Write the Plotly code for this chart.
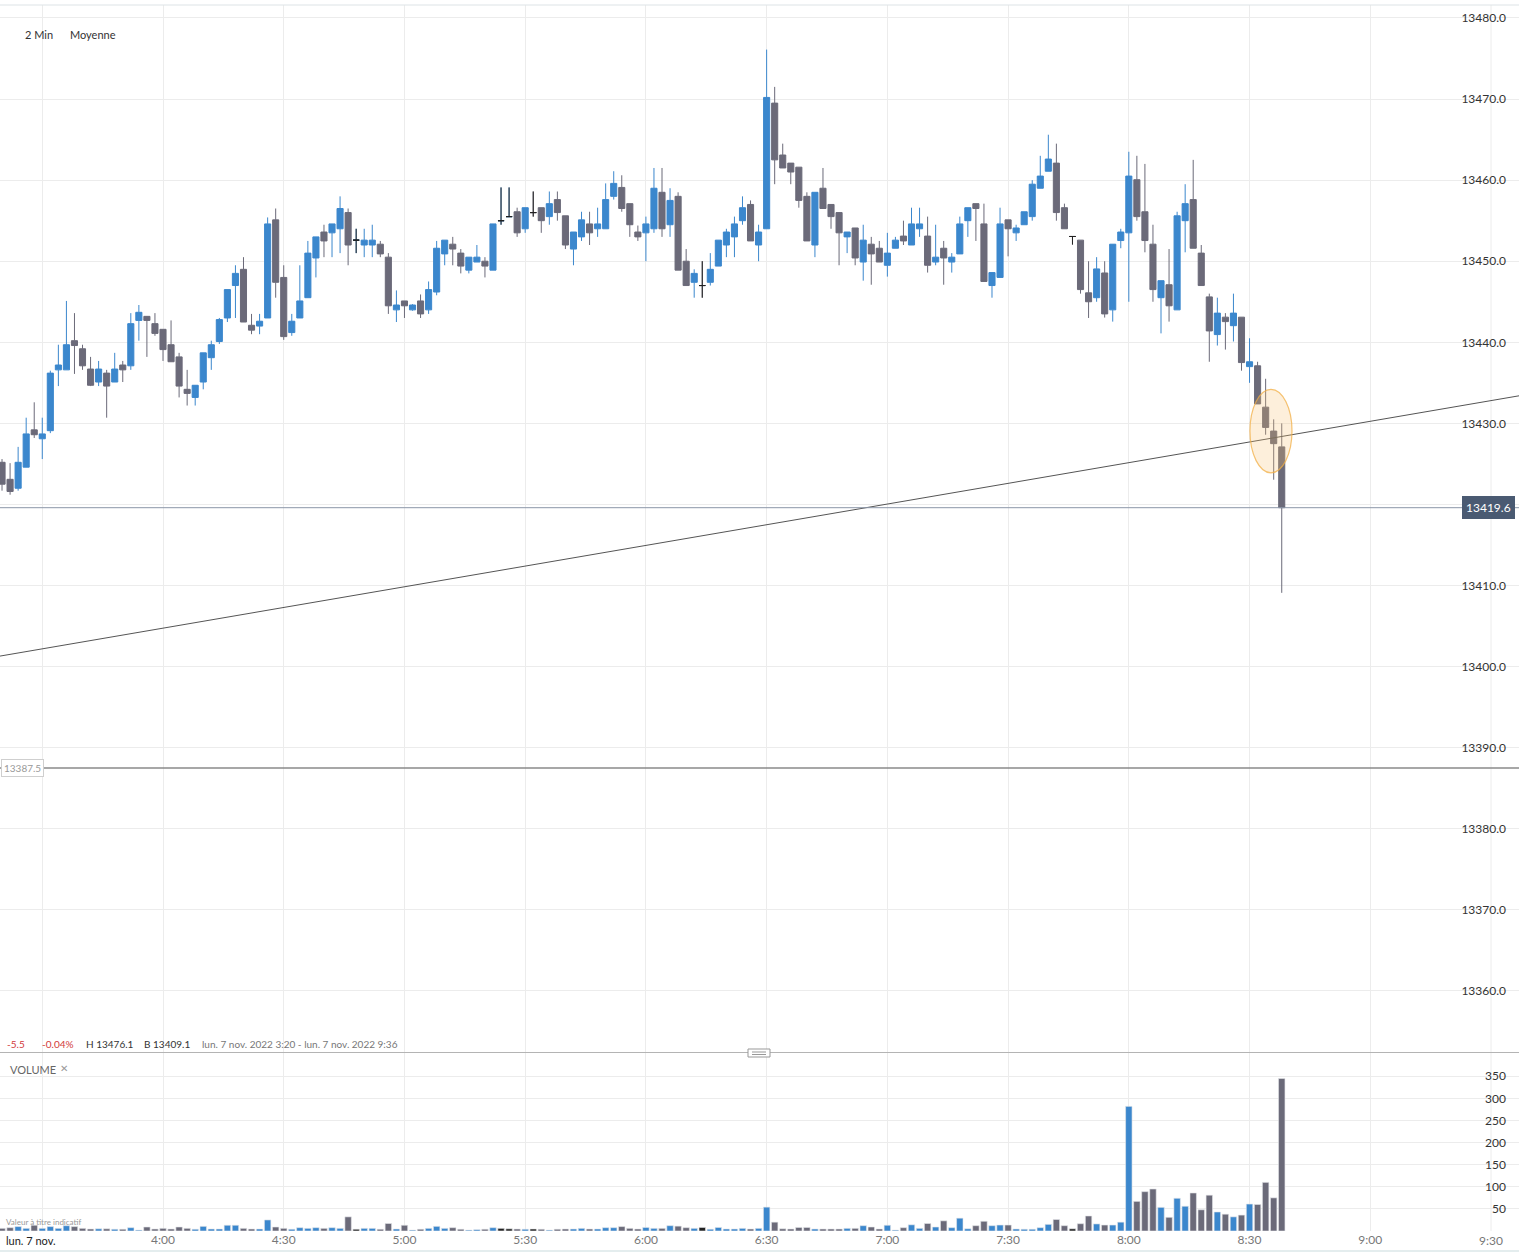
import plotly.graph_objects as go
import pandas as pd

W, H = 1519, 1257

# ---------------- data (2-min candles, 7 Nov 2022, 3:20 -> 8:38) ----------------
opens = [13425.2, 13423.1, 13422.0, 13424.6, 13429.2, 13428.1, 13429.1, 13436.6, 13436.6, 13440.2,
         13439.2, 13436.7, 13435.1, 13436.2, 13435.1, 13437.2, 13437.1, 13442.7, 13443.2, 13442.3,
         13441.6, 13439.7, 13438.2, 13434.2, 13433.2, 13435.1, 13438.1, 13440.1, 13443.0, 13447.0,
         13449.0, 13442.1, 13442.0, 13443.0, 13455.1, 13448.0, 13441.2, 13443.0, 13445.5, 13450.4,
         13453.6, 13453.5, 13454.0, 13456.0, 13452.6, 13452.0, 13452.0, 13452.1, 13450.5, 13444.0,
         13445.1, 13444.0, 13445.1, 13444.0, 13446.2, 13450.9, 13452.1, 13451.0, 13448.9, 13449.9,
         13450.0, 13448.9, 13455.0, 13455.5, 13456.1, 13454.0, 13456.0, 13456.6, 13455.5, 13457.6,
         13455.6, 13451.5, 13453.0, 13454.6, 13454.0, 13454.0, 13458.0, 13459.1, 13457.1, 13453.6,
         13453.5, 13454.0, 13458.5, 13454.5, 13458.0, 13450.0, 13447.4, 13447.0, 13447.4, 13449.4,
         13452.0, 13453.0, 13455.0, 13457.0, 13452.0, 13454.0, 13469.5, 13463.1, 13462.1, 13461.6,
         13458.0, 13452.0, 13459.0, 13457.0, 13456.0, 13453.0, 13454.1, 13449.9, 13452.1, 13451.6,
         13449.5, 13451.6, 13453.1, 13452.0, 13454.0, 13453.1, 13449.9, 13451.6, 13449.9, 13450.9,
         13455.0, 13457.1, 13454.6, 13447.0, 13448.0, 13455.1, 13453.5, 13454.5, 13455.5, 13459.0,
         13461.1, 13462.1, 13456.6, 13453.05, 13452.6, 13446.1, 13445.5, 13448.55, 13444.0, 13452.55,
         13453.5, 13460.05, 13456.1, 13452.1, 13445.5, 13447.1, 13444.0, 13455.0, 13457.6, 13451.0,
         13445.6, 13440.95, 13443.1, 13442.05, 13443.1, 13437.0, 13437.1, 13432.0, 13429.05, 13427.1]
highs = [13425.6, 13425.1, 13427.1, 13430.7, 13432.6, 13430.7, 13436.5, 13439.7, 13445.1, 13443.6,
         13439.7, 13438.2, 13437.7, 13436.6, 13438.7, 13437.7, 13443.6, 13444.6, 13443.2, 13443.6,
         13441.6, 13442.7, 13438.7, 13436.6, 13434.7, 13438.7, 13440.2, 13443.0, 13446.5, 13449.5,
         13450.5, 13443.5, 13443.5, 13455.4, 13456.5, 13449.5, 13443.5, 13449.5, 13452.5, 13453.0,
         13454.5, 13454.6, 13458.0, 13456.5, 13454.0, 13454.0, 13454.5, 13452.5, 13451.0, 13446.4,
         13445.1, 13444.7, 13445.9, 13447.5, 13452.5, 13452.6, 13453.0, 13451.5, 13450.5, 13452.0,
         13450.5, 13454.6, 13459.1, 13459.1, 13456.6, 13456.6, 13458.6, 13456.6, 13458.6, 13458.6,
         13455.6, 13453.6, 13456.1, 13456.1, 13456.6, 13459.6, 13461.1, 13460.6, 13457.1, 13454.4,
         13455.5, 13461.5, 13461.5, 13459.0, 13458.5, 13451.5, 13449.0, 13450.0, 13451.0, 13452.6,
         13454.0, 13455.5, 13458.0, 13457.5, 13454.5, 13476.1, 13471.5, 13464.5, 13462.1, 13461.6,
         13458.5, 13458.5, 13461.5, 13457.0, 13456.0, 13453.6, 13454.1, 13454.5, 13453.0, 13452.5,
         13453.5, 13453.0, 13455.0, 13456.6, 13456.6, 13455.5, 13454.5, 13452.5, 13451.0, 13455.5,
         13456.6, 13457.1, 13457.1, 13448.6, 13456.6, 13455.1, 13454.5, 13456.1, 13460.0, 13463.0,
         13465.6, 13464.5, 13457.1, 13453.05, 13452.6, 13450.0, 13450.5, 13450.0, 13452.1, 13454.0,
         13463.5, 13463.0, 13462.0, 13454.5, 13447.6, 13451.5, 13456.1, 13459.5, 13462.5, 13452.0,
         13446.0, 13445.5, 13443.6, 13446.0, 13443.1, 13440.5, 13437.6, 13435.5, 13430.5, 13430.0]
lows = [13421.7, 13421.2, 13421.7, 13424.6, 13428.2, 13425.6, 13428.8, 13434.6, 13436.6, 13436.1,
        13436.6, 13434.6, 13434.6, 13430.7, 13435.1, 13435.1, 13436.6, 13440.2, 13438.2, 13440.8,
        13437.7, 13437.6, 13433.2, 13432.2, 13432.2, 13434.2, 13436.6, 13439.8, 13442.5, 13443.0,
        13442.5, 13441.0, 13441.0, 13443.0, 13445.5, 13440.3, 13440.8, 13443.0, 13445.5, 13448.0,
        13450.5, 13450.5, 13451.0, 13449.5, 13451.0, 13450.5, 13450.5, 13450.5, 13443.5, 13442.5,
        13443.0, 13443.9, 13443.0, 13443.5, 13445.8, 13449.5, 13449.5, 13448.5, 13448.5, 13449.9,
        13448.0, 13448.9, 13454.5, 13455.5, 13453.0, 13453.5, 13455.5, 13453.5, 13454.5, 13455.0,
        13451.5, 13449.5, 13452.5, 13452.0, 13453.0, 13454.0, 13457.6, 13456.1, 13453.0, 13452.5,
        13450.0, 13453.5, 13453.0, 13453.0, 13448.9, 13447.0, 13445.5, 13445.5, 13447.0, 13449.4,
        13450.5, 13450.5, 13454.5, 13452.5, 13450.0, 13454.0, 13459.5, 13461.5, 13459.5, 13456.6,
        13452.5, 13450.5, 13456.5, 13454.0, 13449.5, 13451.0, 13449.5, 13447.6, 13447.1, 13449.9,
        13448.1, 13451.6, 13452.0, 13452.0, 13453.0, 13448.6, 13449.5, 13447.1, 13448.6, 13450.9,
        13453.0, 13452.5, 13447.5, 13445.5, 13448.0, 13450.6, 13452.5, 13454.5, 13455.0, 13459.0,
        13461.1, 13455.0, 13454.0, 13452.05, 13446.0, 13443.0, 13445.0, 13443.05, 13442.55, 13451.6,
        13445.0, 13455.0, 13451.1, 13445.0, 13441.1, 13442.55, 13444.0, 13451.1, 13451.6, 13447.0,
        13437.6, 13439.6, 13439.1, 13440.1, 13436.5, 13435.0, 13432.4, 13428.6, 13423.05, 13409.1]
closes = [13422.5, 13421.6, 13425.2, 13428.7, 13428.6, 13428.7, 13436.2, 13437.2, 13439.7, 13439.6,
          13437.1, 13434.7, 13436.7, 13434.6, 13436.7, 13436.6, 13442.3, 13443.7, 13442.7, 13441.1,
          13439.1, 13437.6, 13434.6, 13433.7, 13434.7, 13438.7, 13439.7, 13442.8, 13446.5, 13448.5,
          13442.5, 13441.5, 13442.6, 13454.6, 13447.4, 13440.7, 13442.6, 13445.1, 13451.0, 13453.0,
          13452.5, 13454.6, 13456.5, 13452.0, 13452.6, 13452.6, 13452.6, 13450.9, 13444.5, 13444.6,
          13444.5, 13444.6, 13443.5, 13446.5, 13451.6, 13452.6, 13451.5, 13449.4, 13450.5, 13450.5,
          13449.4, 13454.6, 13455.0, 13455.5, 13453.5, 13456.6, 13456.0, 13455.0, 13457.1, 13456.0,
          13452.0, 13453.6, 13455.1, 13453.5, 13454.6, 13457.6, 13459.6, 13456.5, 13454.5, 13453.0,
          13454.6, 13459.0, 13454.0, 13457.5, 13448.9, 13447.0, 13448.5, 13447.0, 13449.0, 13452.6,
          13453.6, 13454.6, 13456.6, 13452.5, 13453.6, 13470.2, 13462.5, 13461.5, 13461.0, 13457.5,
          13452.5, 13458.5, 13456.5, 13455.5, 13453.5, 13453.6, 13450.4, 13452.6, 13450.9, 13449.9,
          13451.0, 13452.6, 13452.5, 13454.6, 13454.6, 13449.5, 13450.5, 13450.4, 13450.5, 13454.6,
          13456.6, 13456.5, 13447.5, 13448.6, 13454.6, 13454.0, 13454.1, 13456.1, 13459.5, 13460.5,
          13462.6, 13456.0, 13454.0, 13453.05, 13446.5, 13445.0, 13449.05, 13443.5, 13452.1, 13453.6,
          13460.5, 13455.5, 13452.55, 13446.5, 13447.6, 13444.5, 13455.6, 13457.1, 13451.6, 13447.0,
          13441.4, 13443.6, 13442.55, 13443.6, 13437.5, 13437.6, 13432.4, 13429.5, 13427.5, 13419.6]
volumes = [6, 7.5, 10, 6, 13, 6, 10, 6, 12, 10,
           6, 4.5, 5, 5, 4, 4, 7.5, 2, 9, 4.5,
           6, 4.5, 9, 6, 4, 10.5, 4.5, 4.5, 13, 13,
           6, 4.5, 4.5, 25, 9, 6, 4, 7.5, 6, 7.5,
           6, 7.5, 6, 32, 4, 6, 6, 4, 17, 4.5,
           13, 2, 4, 6, 10.5, 6, 7.5, 4, 2, 3,
           4, 7.5, 6, 5, 4.5, 4, 4.5, 4, 2, 4,
           4.5, 4.5, 6, 4.5, 4.5, 7.5, 7.5, 10, 6, 4.5,
           8, 6, 6, 12, 11, 7.5, 6, 8, 4, 8,
           4.5, 4.5, 6, 4.5, 6, 54, 20, 5, 4.5, 8,
           8, 4.5, 4.5, 4.5, 4.5, 6, 6, 12, 9, 4.5,
           13, 2, 7.5, 14, 6, 17, 9, 23, 7.5, 29,
           5, 12, 22, 12, 13.5, 13.5, 4.5, 4, 4, 7.5,
           15, 26, 12, 5, 16.5, 34, 16, 13.5, 13.5, 20,
           282, 67, 89, 95, 53.5, 31, 74, 56, 86, 48,
           81, 43, 38, 32, 36, 61, 60, 110, 75, 345]

times = pd.date_range("2022-11-07 03:20", periods=len(opens), freq="2min")

# 13420 label is hidden behind the last-price tag in the reference
price_ticks = [13360, 13370, 13380, 13390, 13400, 13410, 13430, 13440, 13450, 13460, 13470, 13480]
vol_ticks = [50, 100, 150, 200, 250, 300, 350]
time_ticks = list(pd.date_range("2022-11-07 03:30", "2022-11-07 09:00", freq="30min"))
time_labels = [""] + [f"{t.hour}:{t.minute:02d}" for t in time_ticks[1:]]
last_time_tick = "2022-11-07 09:30"   # drawn manually (plotly hides it under inside y labels)
last_time_label = "9:30"
date_label = "lun. 7 nov."

last_price = 13419.6
support_level = 13387.5
trend_start = ("2022-11-07 03:19:30", 13401.3)
trend_end = ("2022-11-07 09:36:58", 13433.4)
highlight = ("2022-11-07 08:30:06", "2022-11-07 08:40:33", 13423.9, 13434.2)

BLUE = "#3b87cd"
GREY = "#6b6a79"
BLACK = "#222222"
GRID = "#ececec"
FONT = "Lato, 'Open Sans', sans-serif"

def px(x):
    return x / W

def py(y):
    return 1 - y / H

doji_idx = [i for i in range(len(opens)) if opens[i] == closes[i]]
vol_colors = [BLUE if c > o else (GREY if c < o else BLACK) for o, c in zip(opens, closes)]

fig = go.Figure()

fig.add_trace(go.Candlestick(
    x=times, open=opens, high=highs, low=lows, close=closes,
    increasing=dict(line=dict(color=BLUE, width=1), fillcolor=BLUE),
    decreasing=dict(line=dict(color=GREY, width=1), fillcolor=GREY),
    whiskerwidth=0, xaxis="x", yaxis="y", showlegend=False,
))
fig.add_trace(go.Candlestick(
    x=[times[i] for i in doji_idx],
    open=[opens[i] for i in doji_idx], high=[highs[i] for i in doji_idx],
    low=[lows[i] for i in doji_idx], close=[closes[i] for i in doji_idx],
    increasing=dict(line=dict(color=BLACK, width=1), fillcolor=BLACK),
    decreasing=dict(line=dict(color=BLACK, width=1), fillcolor=BLACK),
    whiskerwidth=0, xaxis="x", yaxis="y", showlegend=False,
))
fig.add_trace(go.Bar(
    x=times, y=volumes, marker=dict(color=vol_colors, line=dict(color="#e4e6ea", width=0.6)),
    xaxis="x2", yaxis="y2", showlegend=False,
))

main_dom = [py(1052), py(5)]
vol_dom = [py(1231), py(1053)]
xrange = ["2022-11-07 03:19:29.7", "2022-11-07 09:36:57.5"]

fig.update_layout(
    width=W, height=H,
    margin=dict(l=0, r=0, t=0, b=0),
    paper_bgcolor="white", plot_bgcolor="white",
    font=dict(family=FONT, size=12, color="#333"),
    boxgap=0.13, boxgroupgap=0.13, bargap=0.2,
    xaxis=dict(domain=[0, 1], range=xrange, anchor="y", showticklabels=False,
               tickvals=time_ticks, showgrid=True, gridcolor=GRID, gridwidth=1,
               rangeslider=dict(visible=False), zeroline=False, showline=False),
    yaxis=dict(domain=main_dom, range=[13352.47, 13481.6], side="right", anchor="x",
               tickvals=price_ticks, tickformat=".1f", ticklabelposition="inside",
               ticklabelstandoff=10, tickfont=dict(size=12, color="#333"),
               showgrid=True, gridcolor=GRID, zeroline=False, showline=False),
    xaxis2=dict(domain=[0, 1], range=xrange, anchor="y2", matches="x",
                tickvals=time_ticks, ticktext=time_labels, tickfont=dict(size=12, color="#777"),
                showgrid=True, gridcolor=GRID, zeroline=False, showline=False, ticks=""),
    yaxis2=dict(domain=vol_dom, range=[0, 402.7], side="right", anchor="x2",
                tickvals=vol_ticks, ticklabelposition="inside", ticklabelstandoff=10,
                tickfont=dict(size=12, color="#333"),
                showgrid=True, gridcolor=GRID, zeroline=False, showline=False),
)

shapes = [
    # 13420 grid line (label hidden behind last-price tag)
    dict(type="line", xref="paper", yref="y", x0=0, x1=1, y0=13420, y1=13420,
         line=dict(color=GRID, width=1), layer="below"),
    # 9:30 grid lines in both panels
    dict(type="line", xref="x", yref="y domain", x0=last_time_tick, x1=last_time_tick, y0=0, y1=1,
         line=dict(color=GRID, width=1), layer="below"),
    dict(type="line", xref="x2", yref="y2 domain", x0=last_time_tick, x1=last_time_tick, y0=0, y1=1,
         line=dict(color=GRID, width=1), layer="below"),
    # trend line
    dict(type="line", xref="x", yref="y", x0=trend_start[0], y0=trend_start[1],
         x1=trend_end[0], y1=trend_end[1], line=dict(color="#555", width=1)),
    # last price line
    dict(type="line", xref="paper", yref="y", x0=0, x1=1, y0=last_price, y1=last_price,
         line=dict(color="#8c97a8", width=1)),
    # support line
    dict(type="line", xref="paper", yref="y", x0=0, x1=1, y0=support_level, y1=support_level,
         line=dict(color="#8a8a8a", width=1.5)),
    # highlight ellipse
    dict(type="circle", xref="x", yref="y", x0=highlight[0], x1=highlight[1],
         y0=highlight[2], y1=highlight[3], fillcolor="rgba(246,190,110,0.25)",
         line=dict(color="rgba(242,175,70,0.75)", width=1.2), layer="above"),
    # top border
    dict(type="line", xref="paper", yref="paper", x0=0, x1=1, y0=py(5), y1=py(5),
         line=dict(color="#dde3e6", width=1)),
    # panel separator
    dict(type="line", xref="paper", yref="paper", x0=0, x1=1, y0=py(1052.5), y1=py(1052.5),
         line=dict(color="#b4b4b4", width=1)),
    # bottom border
    dict(type="line", xref="paper", yref="paper", x0=0, x1=1, y0=py(1251), y1=py(1251),
         line=dict(color="#dbe7e8", width=1.5)),
    # separator handle
    dict(type="rect", xref="paper", yref="paper", x0=px(748), x1=px(770), y0=py(1057), y1=py(1049),
         fillcolor="white", line=dict(color="#999", width=1)),
    dict(type="line", xref="paper", yref="paper", x0=px(752), x1=px(766), y0=py(1052), y1=py(1052),
         line=dict(color="#999", width=1)),
    dict(type="line", xref="paper", yref="paper", x0=px(752), x1=px(766), y0=py(1054.5), y1=py(1054.5),
         line=dict(color="#999", width=1)),
]
fig.update_layout(shapes=shapes)

def txt(x, y, s, size=11, color="#333", xanchor="left"):
    return dict(x=px(x), y=py(y), xref="paper", yref="paper", text=s, showarrow=False,
                xanchor=xanchor, yanchor="middle", font=dict(size=size, color=color, family=FONT))

annotations = [
    txt(23, 34, "2 Min", 11, "#333"),
    txt(68, 34, "Moyenne", 11, "#333"),
    txt(5, 1044, "-5.5", 10, "#d23a3a"),
    txt(40, 1044, "-0.04%", 10, "#d23a3a"),
    txt(84, 1044, "H 13476.1", 10, "#333"),
    txt(142, 1044, "B 13409.1", 10, "#333"),
    txt(200, 1044, "lun. 7 nov. 2022 3:20 - lun. 7 nov. 2022 9:36", 10, "#777"),
    txt(8, 1069, "VOLUME", 11, "#666"),
    txt(58, 1068, "✕", 10, "#999"),
    txt(4, 1222, "Valeur à titre indicatif", 8, "#999"),
    txt(4, 1240, date_label, 11, "#222"),
    dict(x=last_time_tick, y=py(1240), xref="x2", yref="paper", text=last_time_label,
         showarrow=False, xanchor="center", yanchor="middle",
         font=dict(size=12, color="#777", family=FONT)),
    dict(x=px(1), y=support_level, xref="paper", yref="y", text="13387.5", showarrow=False,
         xanchor="left", yanchor="middle", font=dict(size=10, color="#999", family=FONT),
         bgcolor="white", bordercolor="#cfcfcf", borderwidth=1, borderpad=2),
    dict(x=px(1515), y=last_price, xref="paper", yref="y", text="13419.6", showarrow=False,
         xanchor="right", yanchor="middle", font=dict(size=12, color="white", family=FONT),
         bgcolor="#4a5a72", bordercolor="#4a5a72", borderwidth=1, borderpad=3),
]
fig.update_layout(annotations=annotations)

fig.write_html("out.html", config={"displayModeBar": False},
               post_script="document.body.style.margin='0px';document.body.style.overflow='hidden';")
